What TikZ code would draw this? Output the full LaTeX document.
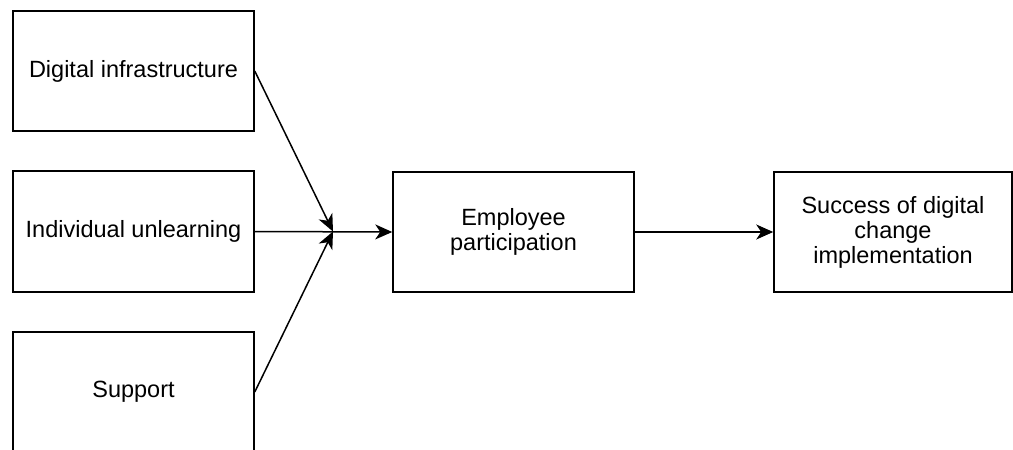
\documentclass[tikz,border=0pt]{standalone}
\usepackage{fontspec}
\setmainfont{Liberation Sans}
\usetikzlibrary{arrows.meta}
\begin{document}
\begin{tikzpicture}[x=1pt,y=-1pt,
  box/.style={draw=black, line width=1.5pt, fill=white, minimum width=241pt, minimum height=120pt,
    align=center, inner sep=2pt, font=\fontsize{23.5}{25}\selectfont},
  conn/.style={line width=1.5pt, -{Stealth[length=17pt,width=15pt,inset=5pt]}}]
\useasboundingbox (0,0) rectangle (1013,450);
\clip (0,0) rectangle (1013,450);
\node[box] (dig) at (133.5,71) {Digital infrastructure};
\node[box, minimum height=121pt] (ind) at (133.5,231.5) {Individual unlearning};
\node[box] (sup) at (133.5,392) {Support};
\node[box] (emp) at (513.5,232) {Employee\\participation};
\node[box, minimum width=238pt] (suc) at (893,232) {Success of digital\\change\\implementation};
\coordinate (j) at (333,231.5);
\draw[conn] (dig.east) -- (j);
\draw[conn] (sup.east) -- (j);
\draw[conn] (ind.east) -- (emp.west);
\draw[conn] (emp.east) -- (suc.west);
\end{tikzpicture}
\end{document}
